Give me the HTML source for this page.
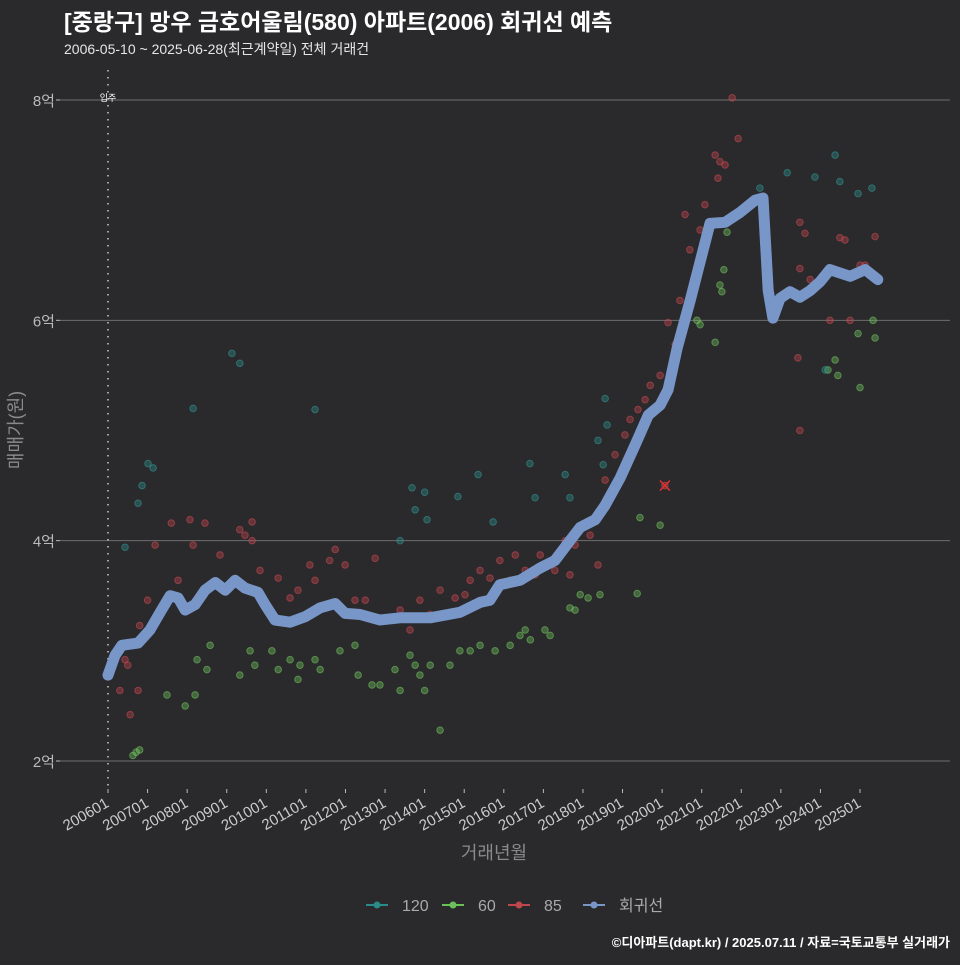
<!DOCTYPE html>
<html><head><meta charset="utf-8">
<style>
html,body{margin:0;padding:0;background:#2a292b;}
body{width:960px;height:960px;overflow:hidden;font-family:"Liberation Sans","Noto Sans CJK KR",sans-serif;}
svg text{font-family:"Liberation Sans","Noto Sans CJK KR",sans-serif;}
</style></head>
<body>
<svg id="chart" width="960" height="960" xmlns="http://www.w3.org/2000/svg">
<rect width="960" height="960" fill="#2a292b"/>
<text x="64" y="30" fill="#ffffff" font-size="23" font-weight="bold">[중랑구] 망우 금호어울림(580) 아파트(2006) 회귀선 예측</text>
<text x="64" y="54" fill="#e6e6e6" font-size="14">2006-05-10 ~ 2025-06-28(최근계약일) 전체 거래건</text>
<g id="grid"></g>
<g id="pts"></g>
<g id="reg"></g>
<g id="axes"></g>
<text transform="translate(22,430) rotate(-90)" text-anchor="middle" fill="#8a8a8a" font-size="18">매매가(원)</text>
<text x="494" y="859" text-anchor="middle" fill="#8a8a8a" font-size="18">거래년월</text>
<g id="legend"></g>
<text x="950" y="947" text-anchor="end" fill="#ffffff" font-size="13" font-weight="bold">©디아파트(dapt.kr) / 2025.07.11 / 자료=국토교통부 실거래가</text>
</svg>
<script>
const yTicks=[2,4,6,8];
const yTickLabels=["2억","4억","6억","8억"];
const xTickYears=[2006,2007,2008,2009,2010,2011,2012,2013,2014,2015,2016,2017,2018,2019,2020,2021,2022,2023,2024,2025];
const xTickLabels=["200601","200701","200801","200901","201001","201101","201201","201301","201401","201501","201601","201701","201801","201901","202001","202101","202201","202301","202401","202501"];
const regT=[2006.0,2006.18,2006.35,2006.76,2007.06,2007.32,2007.57,2007.77,2007.95,2008.2,2008.45,2008.71,2008.96,2009.21,2009.46,2009.79,2009.97,2010.22,2010.6,2010.98,2011.36,2011.74,2011.99,2012.37,2012.87,2013.38,2014.14,2014.89,2015.4,2015.65,2015.9,2016.41,2016.91,2017.29,2017.67,2017.93,2018.31,2018.56,2018.94,2019.32,2019.65,2019.95,2020.15,2020.38,2020.71,2020.96,2021.21,2021.59,2021.97,2022.35,2022.55,2022.68,2022.8,2022.98,2023.23,2023.48,2023.74,2023.99,2024.24,2024.75,2025.13,2025.45];
const regV=[2.78,2.96,3.05,3.07,3.19,3.35,3.5,3.48,3.37,3.42,3.55,3.62,3.55,3.64,3.57,3.53,3.42,3.28,3.26,3.31,3.39,3.43,3.34,3.33,3.28,3.30,3.30,3.35,3.44,3.46,3.60,3.64,3.75,3.82,4.0,4.12,4.19,4.32,4.57,4.87,5.14,5.23,5.37,5.75,6.18,6.53,6.88,6.89,6.98,7.09,7.11,6.27,6.02,6.20,6.26,6.21,6.27,6.35,6.46,6.40,6.46,6.37];
const redT=[2006.3,2006.43,2006.5,2006.56,2006.76,2006.8,2007.0,2007.19,2007.6,2007.77,2008.07,2008.15,2008.45,2008.83,2009.33,2009.46,2009.64,2009.64,2009.84,2010.3,2010.6,2010.8,2011.1,2011.23,2011.6,2011.74,2011.99,2012.24,2012.5,2012.75,2013.12,2013.38,2013.63,2013.88,2014.14,2014.39,2014.77,2015.02,2015.15,2015.4,2015.65,2015.9,2016.16,2016.29,2016.54,2016.79,2016.92,2017.12,2017.29,2017.55,2017.67,2017.8,2018.18,2018.38,2018.56,2018.81,2019.06,2019.19,2019.39,2019.57,2019.7,2019.95,2020.15,2020.07,2020.33,2020.45,2020.58,2020.7,2020.96,2021.08,2021.34,2021.41,2021.46,2021.59,2021.77,2021.92,2023.48,2023.48,2023.61,2023.43,2023.48,2023.74,2024.24,2024.49,2024.62,2024.75,2025.0,2025.13,2025.38];
const redV=[2.64,2.92,2.87,2.42,2.64,3.23,3.46,3.96,4.16,3.64,4.19,3.96,4.16,3.87,4.1,4.05,4.17,4.0,3.73,3.66,3.48,3.55,3.78,3.64,3.82,3.92,3.78,3.46,3.46,3.84,3.28,3.37,3.19,3.46,3.33,3.55,3.48,3.51,3.64,3.73,3.66,3.82,3.64,3.87,3.73,3.69,3.87,3.78,3.73,4.0,3.69,3.96,4.05,3.78,4.55,4.78,4.96,5.1,5.19,5.28,5.41,5.5,5.98,4.5,5.78,6.18,6.96,6.64,6.82,7.05,7.5,7.29,7.44,7.41,8.02,7.65,6.89,6.47,6.79,5.66,5.0,6.37,6.0,6.75,6.73,6.0,6.5,6.5,6.76];
const greenT=[2006.63,2006.71,2006.8,2007.49,2007.95,2008.2,2008.25,2008.5,2008.58,2009.33,2009.59,2009.71,2010.14,2010.3,2010.6,2010.8,2010.85,2011.23,2011.36,2011.86,2012.24,2012.32,2012.67,2012.87,2013.25,2013.38,2013.63,2013.76,2013.88,2014.0,2014.14,2014.39,2014.64,2014.89,2015.15,2015.4,2015.78,2016.16,2016.41,2016.54,2016.67,2017.04,2017.17,2017.67,2017.8,2017.93,2018.13,2018.43,2019.37,2019.44,2019.95,2020.88,2020.96,2021.34,2021.46,2021.51,2021.56,2021.64,2024.37,2024.44,2024.19,2025.0,2024.95,2025.33,2025.38];
const greenV=[2.05,2.08,2.10,2.6,2.5,2.6,2.92,2.83,3.05,2.78,3.0,2.87,3.0,2.83,2.92,2.74,2.87,2.92,2.83,3.0,3.05,2.78,2.69,2.69,2.83,2.64,2.96,2.87,2.78,2.64,2.87,2.28,2.87,3.0,3.0,3.05,3.0,3.05,3.14,3.19,3.10,3.19,3.14,3.39,3.37,3.51,3.48,3.51,3.52,4.21,4.14,6.0,5.96,5.80,6.32,6.26,6.46,6.80,5.64,5.5,5.55,5.39,5.88,6.0,5.84];
const tealT=[2006.43,2006.76,2006.86,2007.01,2007.14,2008.15,2009.13,2009.33,2011.23,2013.38,2013.68,2013.76,2014.0,2014.06,2014.84,2015.35,2015.73,2016.66,2016.79,2017.55,2017.67,2018.38,2018.51,2018.56,2018.61,2022.47,2023.16,2023.86,2024.37,2024.49,2024.95,2025.3,2024.12];
const tealV=[3.94,4.34,4.5,4.7,4.66,5.2,5.7,5.61,5.19,4.0,4.48,4.28,4.44,4.19,4.4,4.6,4.17,4.7,4.39,4.6,4.39,4.91,4.69,5.29,5.05,7.2,7.34,7.3,7.5,7.26,7.15,7.2,5.55];

const NS="http://www.w3.org/2000/svg";
const X0=60,X1=950;
function xs(t){return 108+(t-2006)*39.58;}
function ys(v){return 761-(v-2)*110.17;}
function mk(tag,attrs,parent){const e=document.createElementNS(NS,tag);for(const k in attrs)e.setAttribute(k,attrs[k]);parent.appendChild(e);return e;}
const grid=document.getElementById('grid'),axes=document.getElementById('axes');
yTicks.forEach((v,i)=>{
  const l=mk('line',{x1:X0,x2:X1,y1:ys(v),y2:ys(v),stroke:'#6e6e6e','stroke-width':1},grid);
  
  
  const tk=mk('line',{x1:56,x2:60,y1:ys(v),y2:ys(v),stroke:'#bbbbbb'},axes);
  
  
  const t=mk('text',{x:55,y:ys(v)+6,'text-anchor':'end',fill:'#bbbbbb','font-size':15},axes);
  t.textContent=yTickLabels[i];
  
  
});
xTickYears.forEach((yr,i)=>{
  const x=xs(yr);
  const tk=mk('line',{x1:x,x2:x,y1:789,y2:793,stroke:'#bbbbbb'},axes);
  
  
  const t=mk('text',{x:x+2,y:806,'text-anchor':'end',fill:'#cccccc','font-size':15,transform:`rotate(-30 ${x+2} 806)`},axes);
  t.textContent=xTickLabels[i];
  
  
});
const mv=mk('line',{x1:xs(2006.0),x2:xs(2006.0),y1:70,y2:789,stroke:'#cccccc','stroke-width':1.5,'stroke-dasharray':'1.5,5.5'},grid);


const mvt=mk('text',{x:xs(2006.0),y:101,'text-anchor':'middle',fill:'#ffffff','font-size':9},grid);
mvt.textContent='입주';



const pts=document.getElementById('pts');
function series(T,V,fill,stroke,name){
  T.forEach((t,i)=>{
    const c=mk('circle',{cx:xs(t),cy:ys(V[i]),r:3.3,fill:fill,'fill-opacity':0.4,stroke:stroke,'stroke-opacity':0.5,'stroke-width':1},pts);
    
    
  });
}
series(greenT,greenV,'#6cc05a','#7ad468','point-60');
series(redT,redV,'#c0464e','#d8505a','point-85');
series(tealT,tealV,'#2a8c8a','#35a3a0','point-120');
const xm=mk('path',{d:`M${xs(2020.07)-5},${ys(4.5)-5}L${xs(2020.07)+5},${ys(4.5)+5}M${xs(2020.07)-5},${ys(4.5)+5}L${xs(2020.07)+5},${ys(4.5)-5}`,stroke:'#e03030','stroke-width':1.5},pts);



const reg=document.getElementById('reg');
const d=regT.map((t,i)=>(i?'L':'M')+xs(t).toFixed(1)+','+ys(regV[i]).toFixed(1)).join('');
const rp=mk('path',{d:d,fill:'none',stroke:'#7897c8','stroke-width':11,'stroke-linejoin':'round','stroke-linecap':'round'},reg);



const lg=document.getElementById('legend');
const items=[['120','#2a8c8a'],['60','#6cc05a'],['85','#c0464e'],['회귀선','#7897c8']];
const lx=[366,442,508,583];
items.forEach((it,i)=>{
  const g=mk('g',{},lg);
  
  
  mk('line',{x1:lx[i],x2:lx[i]+22,y1:905,y2:905,stroke:it[1],'stroke-width':2},g);
  mk('circle',{cx:lx[i]+11,cy:905,r:3.5,fill:it[1]},g);
  const t=mk('text',{x:lx[i]+36,y:911,fill:'#aaaaaa','font-size':16},g);
  t.textContent=it[0];
});
</script>
</body></html>
